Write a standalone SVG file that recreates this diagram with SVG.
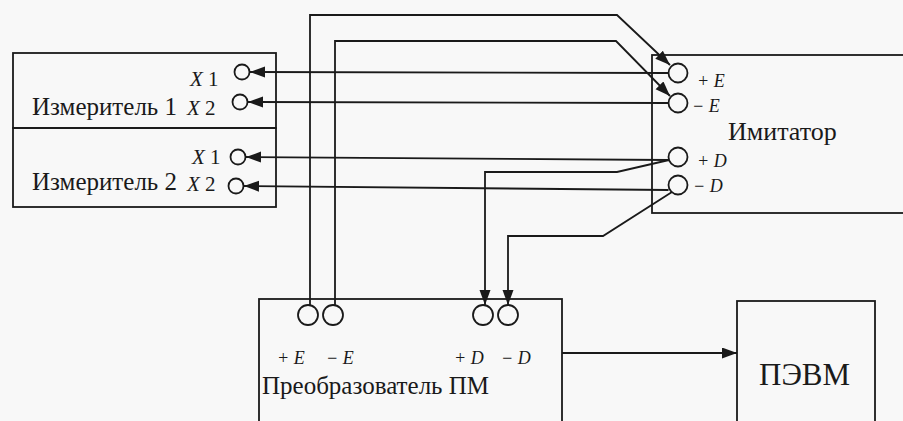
<svg xmlns="http://www.w3.org/2000/svg" width="903" height="421" viewBox="0 0 903 421">
<style>
.box{fill:none;stroke:#1a1a1a;stroke-width:1.8}
.pin{fill:none;stroke:#1a1a1a;stroke-width:1.8}
.wire{fill:none;stroke:#1a1a1a;stroke-width:1.8}
.t{font-family:"Liberation Serif","DejaVu Serif",serif;fill:#1a1a1a}
.i{font-style:italic}
</style>
<defs>
<marker id="ah" markerUnits="userSpaceOnUse" markerWidth="16" markerHeight="12" refX="15" refY="5.5" orient="auto">
<path d="M0,0 L15,5.5 L0,11 z" fill="#1a1a1a"/>
</marker>
</defs>
<rect width="903" height="421" fill="#f8f8f8"/>

<g id="meter1">
<rect class="box" x="13" y="53" width="263" height="75"/>
<text class="t" x="32" y="115" font-size="25">Измеритель 1</text>
<text class="t" x="190" y="86" font-size="21"><tspan class="i">X</tspan> 1</text>
<text class="t" x="187" y="115" font-size="21"><tspan class="i">X</tspan> 2</text>
<circle class="pin" cx="242" cy="72" r="7.5"/>
<circle class="pin" cx="240" cy="102" r="7.5"/>
</g>

<g id="meter2">
<rect class="box" x="13" y="128" width="263" height="79"/>
<text class="t" x="32" y="190" font-size="25">Измеритель 2</text>
<text class="t" x="192" y="164" font-size="21"><tspan class="i">X</tspan> 1</text>
<text class="t" x="187" y="191" font-size="21"><tspan class="i">X</tspan> 2</text>
<circle class="pin" cx="238" cy="157" r="7.5"/>
<circle class="pin" cx="236" cy="186" r="7.5"/>
</g>

<g id="imitator">
<rect class="box" x="652" y="55" width="270" height="158"/>
<circle class="pin" cx="678" cy="73" r="9.5"/>
<circle class="pin" cx="678" cy="103" r="9.5"/>
<circle class="pin" cx="678" cy="157" r="9.5"/>
<circle class="pin" cx="678" cy="185" r="9.5"/>
<text class="t i" x="697" y="87" font-size="18">+ E</text>
<text class="t i" x="692" y="112" font-size="18">− E</text>
<text class="t i" x="697" y="167" font-size="18">+ D</text>
<text class="t i" x="693" y="192" font-size="18">− D</text>
<text class="t" x="728" y="140" font-size="26">Имитатор</text>
</g>

<g id="converter">
<rect class="box" x="259" y="299" width="303" height="140"/>
<circle class="pin" cx="308" cy="315" r="10"/>
<circle class="pin" cx="333" cy="315" r="10"/>
<circle class="pin" cx="483" cy="315" r="10"/>
<circle class="pin" cx="508" cy="315" r="10"/>
<text class="t i" x="277" y="364" font-size="18">+ E</text>
<text class="t i" x="326" y="364" font-size="18">− E</text>
<text class="t i" x="454" y="364" font-size="18">+ D</text>
<text class="t i" x="501" y="364" font-size="18">− D</text>
<text class="t" x="262" y="394" font-size="25">Преобразователь ПМ</text>
</g>

<g id="pc">
<rect class="box" x="737" y="301" width="138" height="140"/>
<text class="t" x="759" y="385" font-size="31">ПЭВМ</text>
</g>

<g id="connectors">
<path class="wire" d="M668.5,73 L250,72" marker-end="url(#ah)"/>
<path class="wire" d="M668.5,103 L248,102" marker-end="url(#ah)"/>
<path class="wire" d="M668.5,160 L246,157" marker-end="url(#ah)"/>
<path class="wire" d="M668.5,190 L244,186" marker-end="url(#ah)"/>
<path class="wire" d="M310,305 V15 H617 L670,65" marker-end="url(#ah)"/>
<path class="wire" d="M335,305 V41 H616 L670,96" marker-end="url(#ah)"/>
<path class="wire" d="M669,160 L617,172 H485 V305" marker-end="url(#ah)"/>
<path class="wire" d="M672,192 L603,236 H508 V305" marker-end="url(#ah)"/>
<path class="wire" d="M562,353 H737" marker-end="url(#ah)"/>
</g>
</svg>
